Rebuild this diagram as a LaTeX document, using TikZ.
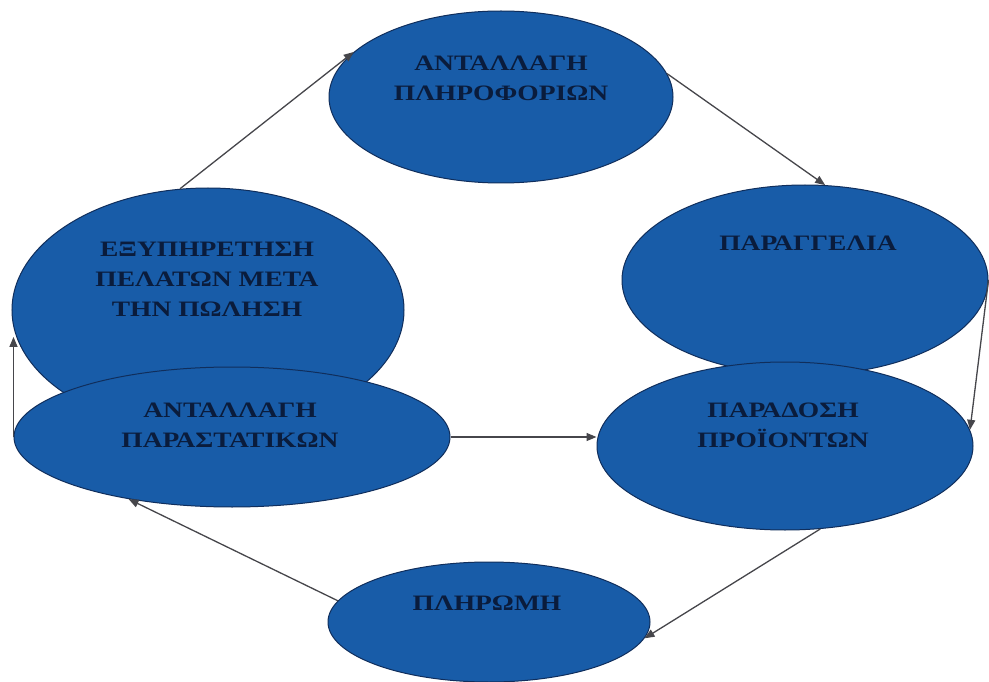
\documentclass[tikz,border=0pt]{standalone}
\usepackage{fontspec}
\setmainfont{Liberation Serif}
\newfontfamily\grbold[FakeStretch=1.25]{Liberation Serif Bold}
\usetikzlibrary{shapes.geometric,arrows.meta}
\definecolor{ellfill}{RGB}{24,92,168}
\definecolor{elldraw}{RGB}{16,46,92}
\definecolor{txtcol}{RGB}{10,28,60}
\definecolor{arrcol}{RGB}{70,70,75}
\tikzset{
  ell/.style={ellipse, fill=ellfill, draw=elldraw, line width=1pt, inner sep=0pt},
  lbl/.style={align=center, text=txtcol, font=\grbold\fontsize{22}{30}\selectfont, inner sep=0pt},
  conn/.style={draw=arrcol, line width=1.3pt, -{Triangle[length=10pt,width=8pt]}}
}
\begin{document}
\begin{tikzpicture}[x=1pt,y=-1pt]
\useasboundingbox (0,0) rectangle (989,682);
\fill[white] (0,0) rectangle (989,682);
% ellipses
\node[ell, minimum width=344pt, minimum height=172pt] (info) at (501,97) {};
\node[ell, minimum width=392pt, minimum height=244pt] (serv) at (208,310) {};
\node[ell, minimum width=436pt, minimum height=140pt] (docs) at (232,437) {};
\node[ell, minimum width=366pt, minimum height=190pt] (order) at (805,280) {};
\node[ell, minimum width=376pt, minimum height=168pt] (deliv) at (785,446) {};
\node[ell, minimum width=322pt, minimum height=120pt] (pay) at (489,622) {};
% labels
\node[lbl] (tinfo) at (501,78) {ΑΝΤΑΛΛΑΓΗ\\ΠΛΗΡΟΦΟΡΙΩΝ};
\node[lbl] (tserv) at (207,279) {ΕΞΥΠΗΡΕΤΗΣΗ\\ΠΕΛΑΤΩΝ ΜΕΤΑ\\ΤΗΝ ΠΩΛΗΣΗ};
\node[lbl] (tdocs) at (230,425) {ΑΝΤΑΛΛΑΓΗ\\ΠΑΡΑΣΤΑΤΙΚΩΝ};
\node[lbl] (torder) at (808,243) {ΠΑΡΑΓΓΕΛΙΑ};
\node[lbl] (tdeliv) at (783,425) {ΠΑΡΑΔΟΣΗ\\ΠΡΟΪΟΝΤΩΝ};
\node[lbl] (tpay) at (487,603) {ΠΛΗΡΩΜΗ};
% connectors
\draw[conn] (serv.103) -- (info.163);
\draw[conn] (info.8) -- (order.78);
\draw[conn] (order.east) -- (deliv.5.6);
\draw[conn] (deliv.-67) -- (pay.-6);
\draw[conn] (pay.172) -- (docs.211);
\draw[conn] (docs.west) -- (docs.west |- serv.188);
\draw[conn] (docs.east) -- (docs.east -| deliv.west);
\end{tikzpicture}
\end{document}
